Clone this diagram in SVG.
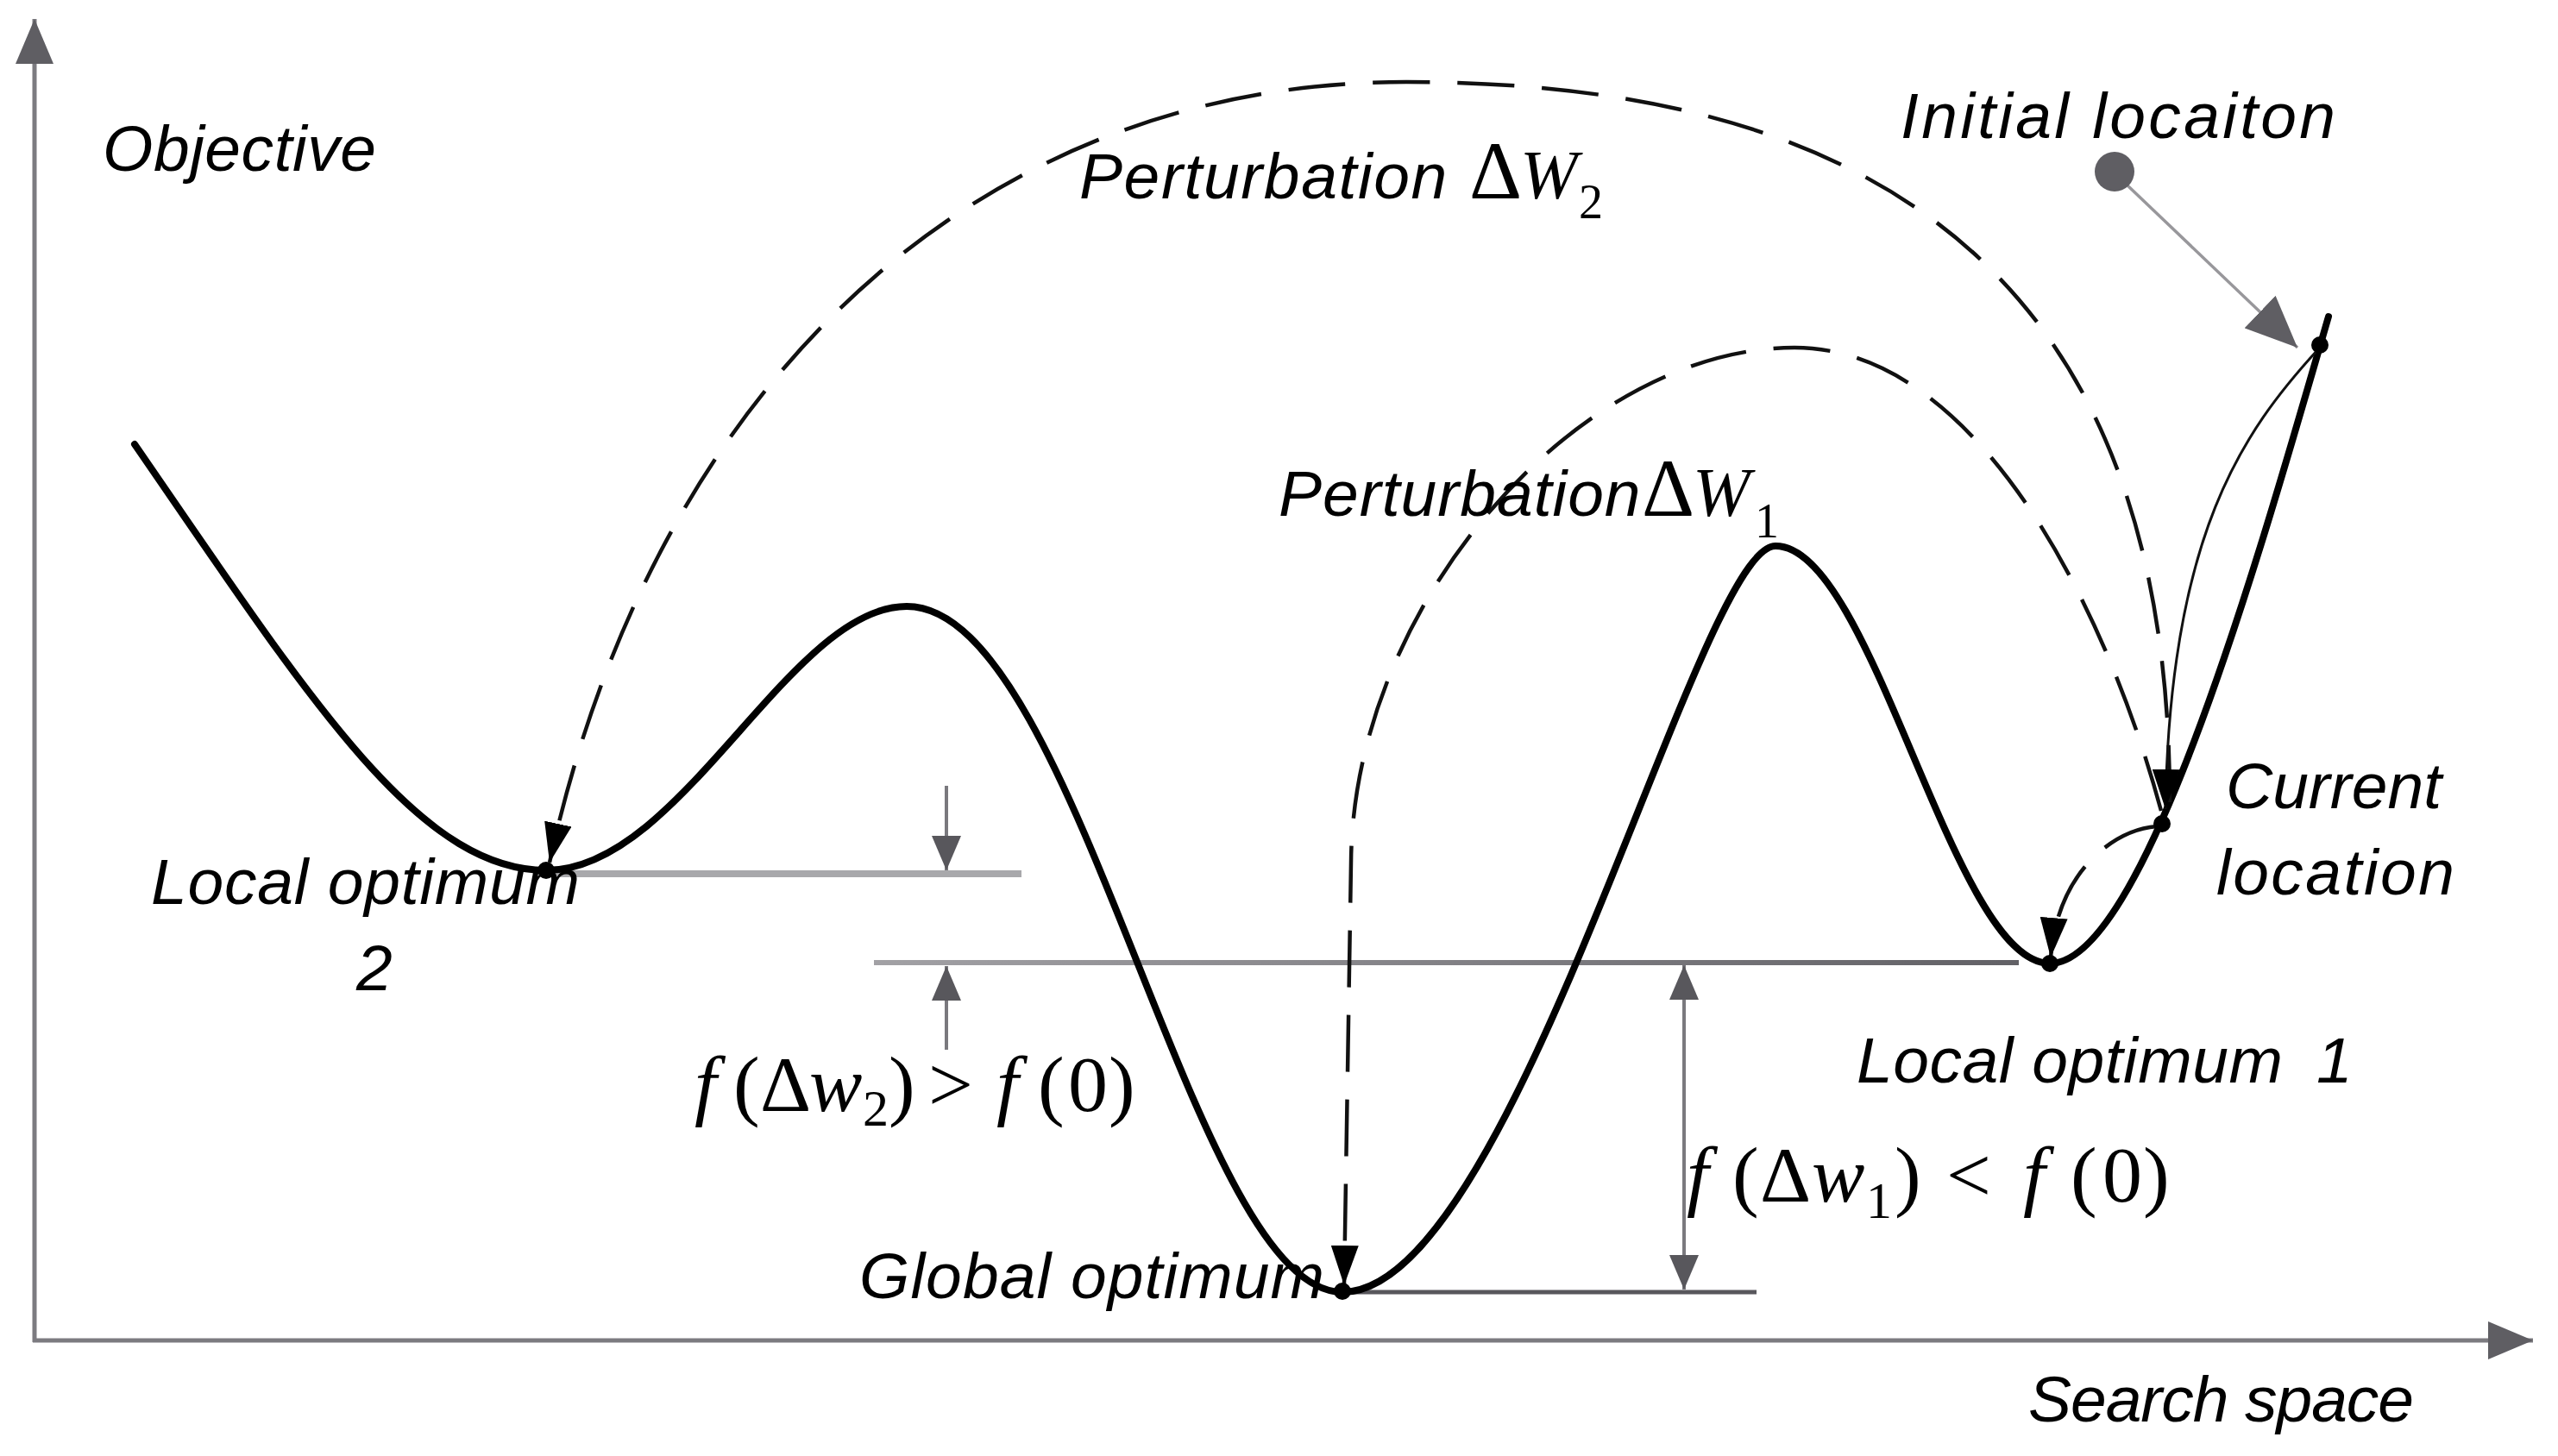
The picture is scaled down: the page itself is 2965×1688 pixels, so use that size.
<svg xmlns="http://www.w3.org/2000/svg" width="2965" height="1688" viewBox="0 0 2965 1688">
<defs>
<style>
.lbl{font-family:"Liberation Sans",Arial,sans-serif;font-style:italic;font-size:75px;fill:#000}
.math{font-family:"Liberation Serif","Times New Roman",serif;font-size:92px;fill:#000}
.sym{font-family:"Liberation Serif","Times New Roman",serif}
.it{font-style:italic}
.up{font-style:normal}
.curve{fill:none;stroke:#000;stroke-width:8;stroke-linecap:round;stroke-linejoin:round}
.dash{fill:none;stroke:#111;stroke-width:4.5;stroke-dasharray:66 32}
.thin{fill:none;stroke:#111;stroke-width:3}
.axis{fill:none;stroke:#7c7b80;stroke-width:5}
.garrow{fill:none;stroke:#7a797e;stroke-width:4}
.pt{fill:#000}
</style>
<marker id="axh" viewBox="0 0 52 44" refX="52" refY="22" markerWidth="52" markerHeight="44" markerUnits="userSpaceOnUse" orient="auto">
<path d="M0,0 L52,22 L0,44 z" fill="#5f5e63" stroke="none"/>
</marker>
<marker id="bah" viewBox="0 0 46 32" refX="46" refY="16" markerWidth="46" markerHeight="32" markerUnits="userSpaceOnUse" orient="auto">
<path d="M0,0 L46,16 L0,32 z" fill="#000" stroke="none"/>
</marker>
<marker id="gah" viewBox="0 0 40 34" refX="40" refY="17" markerWidth="40" markerHeight="34" markerUnits="userSpaceOnUse" orient="auto-start-reverse">
<path d="M0,0 L40,17 L0,34 z" fill="#58575c" stroke="none"/>
</marker>
<marker id="bigg" viewBox="0 0 60 52" refX="60" refY="26" markerWidth="60" markerHeight="52" markerUnits="userSpaceOnUse" orient="auto">
<path d="M0,0 L60,26 L0,52 z" fill="#5f5e63" stroke="none"/>
</marker>
<linearGradient id="lg" gradientUnits="userSpaceOnUse" x1="1013" y1="0" x2="2340" y2="0">
<stop offset="0" stop-color="#a2a1a5"/>
<stop offset="1" stop-color="#626166"/>
</linearGradient>
</defs>
<rect x="0" y="0" width="2965" height="1688" fill="#fff"/>

<g id="axes">
<path class="axis" d="M40 1556 L40 22" marker-end="url(#axh)"/>
<path class="axis" d="M38 1554 L2936 1554" marker-end="url(#axh)"/>
</g>

<g id="levels">
<line x1="640" y1="1013" x2="1184" y2="1013" stroke="#a8a8ab" stroke-width="8"/>
<line x1="1013" y1="1116" x2="2340" y2="1116" stroke="url(#lg)" stroke-width="6"/>
<line x1="1556" y1="1498" x2="2036" y2="1498" stroke="#58575c" stroke-width="5"/>
</g>

<g id="objective-curve">
<path class="curve" d="M156 515 C356 805 483 1009 633 1009 C790 1009 915 703 1051 703 C1250 703 1380 1498 1556 1498 C1756 1498 1968 633 2058 633 C2171 633 2263 1117 2376 1117 C2486 1117 2621 636 2699 367"/>
</g>

<g id="connectors">
<path class="dash" d="M2515 930 C2515 370 2230 95 1630 95 C1130 95 757 450 637 1000" marker-end="url(#bah)"/>
<path class="dash" d="M2505 940 C2440 700 2290 403 2080 403 C1830 403 1568 700 1566 1000 L1558 1490" marker-end="url(#bah)"/>
<path class="dash" d="M2500 958 C2450 962 2385 1010 2377 1110" marker-end="url(#bah)"/>
<path class="thin" d="M2687 405 C2600 500 2515 620 2510 938" marker-end="url(#bah)"/>
<path d="M2466 215 L2663 403" stroke="#98979b" stroke-width="3.5" fill="none" marker-end="url(#bigg)"/>
<path class="garrow" d="M1097 911 L1097 1009" marker-end="url(#gah)"/>
<path class="garrow" d="M1097 1217 L1097 1120" marker-end="url(#gah)"/>
<path class="garrow" d="M1952 1119 L1952 1495" marker-start="url(#gah)" marker-end="url(#gah)"/>
</g>

<g id="points">
<circle class="pt" cx="633" cy="1009" r="10"/>
<circle class="pt" cx="1556" cy="1497" r="10"/>
<circle class="pt" cx="2376" cy="1117" r="10"/>
<circle class="pt" cx="2506" cy="955" r="10"/>
<circle class="pt" cx="2689" cy="400" r="10"/>
<circle cx="2451" cy="199" r="23" fill="#5f5e63"/>
</g>

<g id="label-objective"><text class="lbl" x="119" y="198" textLength="317">Objective</text></g>
<g id="label-initial"><text class="lbl" x="2203" y="160" textLength="504">Initial locaiton</text></g>
<g id="label-perturbation2"><text class="lbl" y="230"><tspan x="1251" letter-spacing="1.6">Perturbation</tspan><tspan class="sym up" x="1703" y="230" font-size="95">Δ</tspan><tspan class="sym" x="1762" y="230" font-size="80">W</tspan><tspan class="sym up" x="1830" y="253" font-size="56">2</tspan></text></g>
<g id="label-perturbation1"><text class="lbl" y="598"><tspan x="1482" letter-spacing="1">Perturbation</tspan><tspan class="sym up" x="1903" y="598" font-size="95">Δ</tspan><tspan class="sym" x="1962" y="598" font-size="80">W</tspan><tspan class="sym up" x="2034" y="623" font-size="56">1</tspan></text></g>
<g id="label-current"><text class="lbl" x="2580" y="937">Current</text><text class="lbl" x="2569" y="1037" textLength="276">location</text></g>
<g id="label-local1"><text class="lbl" y="1255"><tspan x="2152" textLength="494">Local optimum</tspan><tspan x="2685">1</tspan></text></g>
<g id="label-local2"><text class="lbl" x="175" y="1048" textLength="497">Local optimum</text><text class="lbl" x="413" y="1148">2</text></g>
<g id="label-global"><text class="lbl" x="996" y="1505" textLength="539">Global optimum</text></g>
<g id="label-search"><text class="lbl" x="2351" y="1648" textLength="447">Search space</text></g>

<g id="eq-w2"><text class="math" y="1288"><tspan class="it" x="805">f</tspan><tspan x="850">(</tspan><tspan x="881">Δ</tspan><tspan class="it" x="938">w</tspan><tspan x="1000" y="1305" font-size="60">2</tspan><tspan x="1030" y="1288">)</tspan><tspan x="1076">&gt;</tspan><tspan class="it" x="1155">f</tspan><tspan x="1203">(</tspan><tspan x="1238">0</tspan><tspan x="1285">)</tspan></text></g>
<g id="eq-w1"><text class="math" y="1393"><tspan class="it" x="1955">f</tspan><tspan x="2008">(</tspan><tspan x="2040">Δ</tspan><tspan class="it" x="2100">w</tspan><tspan x="2163" y="1412" font-size="60">1</tspan><tspan x="2196" y="1393">)</tspan><tspan x="2256">&lt;</tspan><tspan class="it" x="2345">f</tspan><tspan x="2400">(</tspan><tspan x="2437">0</tspan><tspan x="2484">)</tspan></text></g>
</svg>
